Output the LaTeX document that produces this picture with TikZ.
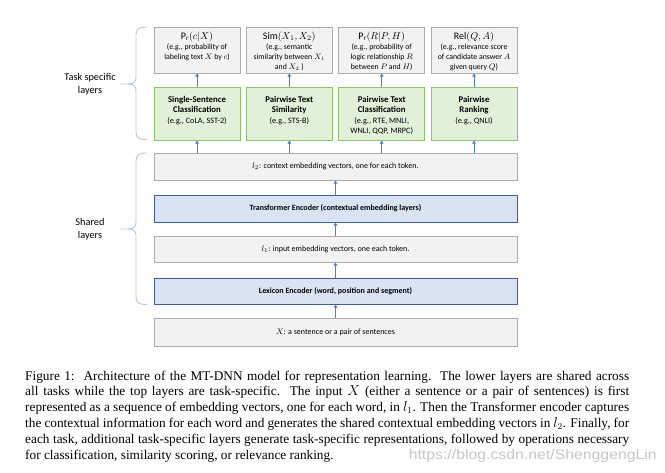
\documentclass[tikz,border=0pt]{standalone}
\usepackage{fontspec}
\usepackage{graphicx}
\setmainfont{Carlito}
\newfontfamily\capfont{Liberation Serif}
\newfontfamily\wmfont{Liberation Sans}
\usetikzlibrary{arrows.meta}
\definecolor{gfill}{RGB}{242,242,242}
\definecolor{gdraw}{RGB}{172,172,172}
\definecolor{grfill}{RGB}{226,240,217}
\definecolor{grdraw}{RGB}{140,196,108}
\definecolor{bfill}{RGB}{218,227,243}
\definecolor{bdraw}{RGB}{62,92,160}
\definecolor{arrc}{RGB}{78,125,205}
\definecolor{bracec}{RGB}{180,199,231}
\newcommand\tbx[2]{\parbox[c][46pt][t]{86pt}{\centering\fontsize{7.8}{10.2}\selectfont\rule{0pt}{12pt}{\fontsize{10}{10}\selectfont #1}\\#2\par}}
\newcommand\gbx[2]{\parbox[c][53pt][t]{86pt}{\centering\fontsize{8.2}{10.3}\selectfont\rule{0pt}{15.5pt}{\fontsize{8.8}{10.3}\selectfont\bfseries #1}\\#2\par}}
\newcommand\capline[1]{\makebox[604pt][s]{#1}}
\begin{document}
\begin{tikzpicture}[x=1pt,y=-1pt,
  topbox/.style={draw=gdraw,fill=gfill,line width=0.8pt,inner sep=0pt},
  greenbox/.style={draw=grdraw,fill=grfill,line width=0.9pt,inner sep=0pt},
  widegrey/.style={draw=gdraw,fill=gfill,line width=0.8pt,inner sep=0pt,minimum width=363pt,minimum height=27pt,font=\fontsize{8}{10}\selectfont},
  wideblue/.style={draw=bdraw,fill=bfill,line width=0.9pt,inner sep=0pt,minimum width=363pt,minimum height=27pt,font=\fontsize{8}{10}\selectfont\bfseries},
  arr/.style={draw=arrc,line width=0.9pt,-{Triangle[length=3.2pt,width=3.6pt]}},
  bracepath/.style={draw=bracec,line width=0.9pt},
  sidelabel/.style={align=center,font=\fontsize{10.3}{13}\selectfont,inner sep=0pt},
  capnode/.style={anchor=base west,inner sep=0pt,font=\capfont\fontsize{13.3}{15.8}\selectfont}]
\useasboundingbox[fill=white] (0,0) rectangle (665,472);

% top task output boxes
\node[topbox] (t1) at (197,50) {\tbx{$\mathrm{P_r}(c|X)$}{(e.g., probability of\\ labeling text $X$ by $c$)}};
\node[topbox] (t2) at (289.3,50) {\tbx{Sim$(X_1,X_2)$}{(e.g., semantic\\ similarity between $X_1$\\ and $X_2$ )}};
\node[topbox] (t3) at (381.7,50) {\tbx{$\mathrm{P_r}(R|P,H)$}{(e.g., probability of\\ logic relationship $R$\\ between $P$ and $H$)}};
\node[topbox] (t4) at (474,50) {\tbx{Rel$(Q,A)$}{(e.g., relevance score\\ of candidate answer $A$\\ given query $Q$)}};

% green task layers
\node[greenbox] (g1) at (197,113.5) {\gbx{Single-Sentence\\ Classification}{(e.g., CoLA, SST-2)}};
\node[greenbox] (g2) at (289.3,113.5) {\gbx{Pairwise Text\\ Similarity}{(e.g., STS-B)}};
\node[greenbox] (g3) at (381.7,113.5) {\gbx{Pairwise Text\\ Classification}{(e.g., RTE, MNLI,\\ WNLI, QQP, MRPC)}};
\node[greenbox] (g4) at (474,113.5) {\gbx{Pairwise\\ Ranking}{(e.g., QNLI)}};

% shared layers
\node[widegrey] (l2) at (335.5,166.5) {$l_2$: context embedding vectors, one for each token.};
\node[wideblue] (tr) at (335.5,208.5) {Transformer Encoder (contextual embedding layers)};
\node[widegrey,minimum height=26pt] (l1) at (335.5,249) {$l_1$: input embedding vectors, one each token.};
\node[wideblue,minimum height=26pt] (lex) at (335.5,291) {Lexicon Encoder (word, position and segment)};
\node[widegrey,minimum height=28pt] (x) at (335.5,332) {$X$: a sentence or a pair of sentences};

% arrows
\foreach \i in {1,2,3,4}{
  \draw[arr] (g\i.north) -- (t\i.south);
  \draw[arr] (g\i.south |- l2.north) -- (g\i.south);
}
\draw[arr] (tr.north) -- (l2.south);
\draw[arr] (l1.north) -- (tr.south);
\draw[arr] (lex.north) -- (l1.south);
\draw[arr] (x.north) -- (lex.south);

% braces
\draw[bracepath] (147,27) .. controls (139,27) and (136,29) .. (136,35) -- (136,77)
  .. controls (136,82) and (134,84) .. (128,84) -- (120,84);
\draw[bracepath] (128,84) .. controls (134,84) and (136,86) .. (136,91) -- (136,132)
  .. controls (136,138) and (139,139.5) .. (147,139.5);
\draw[bracepath] (147,153) .. controls (139,153) and (136,155) .. (136,161) -- (136,222)
  .. controls (136,227) and (134,229) .. (128,229) -- (120,229);
\draw[bracepath] (128,229) .. controls (134,229) and (136,231) .. (136,236) -- (136,297)
  .. controls (136,303) and (139,304.5) .. (147,304.5);

\node[sidelabel] (tsl) at (90,84) {Task specific\\ layers};
\node[sidelabel] (shl) at (90,229) {Shared\\ layers};

% caption
\node[capnode] (c1) at (25,380) {\capline{Figure 1:\ \ Architecture of the MT-DNN model for representation learning.\ \ The lower layers are shared across}};
\node[capnode] (c2) at (25,395.8) {\capline{all tasks while the top layers are task-specific.\ \ The input $X$ (either a sentence or a pair of sentences) is first}};
\node[capnode] (c3) at (25,411.6) {\capline{represented as a sequence of embedding vectors, one for each word, in $l_1$. Then the Transformer encoder captures}};
\node[capnode] (c4) at (25,427.4) {\capline{the contextual information for each word and generates the shared contextual embedding vectors in $l_2$. Finally, for}};
\node[capnode] (c5) at (25,443.2) {\capline{each task, additional task-specific layers generate task-specific representations, followed by operations necessary}};
\node[capnode] (c6) at (25,459) {for classification, similarity scoring, or relevance ranking.};

% watermark
\node[anchor=base east,inner sep=0pt,text=black!22,font=\wmfont\fontsize{14}{16}\selectfont] (wm) at (657,459) {\scalebox{1.13}[1]{https://blog.csdn.net/ShenggengLin}};
\end{tikzpicture}
\end{document}
